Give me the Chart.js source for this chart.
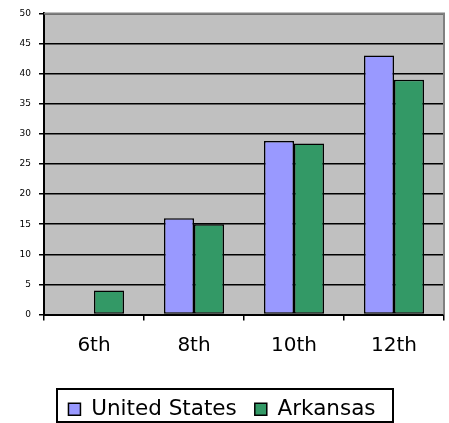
<!DOCTYPE html>
<html>
<head>
<meta charset="utf-8">
<script src="https://cdn.jsdelivr.net/npm/chart.js@4"></script>
<style>
  html, body { margin: 0; padding: 0; background: #ffffff; }
  #wrap { width: 449px; height: 423px; }
</style>
</head>
<body>
<div id="wrap"><canvas id="bar"></canvas></div>
<script>
var grades = ["6th", "8th", "10th", "12th"];
var unitedStates = [null, 16, 28.8, 43];
var arkansas = [4, 15, 28.4, 39];
var yTicks = [0, 5, 10, 15, 20, 25, 30, 35, 40, 45, 50];

var bar = document.getElementById("bar");

// grey plot area, grey top/right border, box round the legend
var plotBack = {
    id: "plotBack",
    beforeDraw: function (chart) {
        var a = chart.chartArea;
        var ctx = chart.ctx;
        ctx.save();
        ctx.fillStyle = "#C0C0C0";
        ctx.fillRect(a.left, a.top, a.right - a.left, a.bottom - a.top);
        ctx.restore();
    },
    beforeDatasetsDraw: function (chart) {
        var a = chart.chartArea;
        var ctx = chart.ctx;
        ctx.save();
        ctx.strokeStyle = "#808080";
        ctx.lineWidth = 2;
        ctx.beginPath();
        ctx.moveTo(a.left, a.top);
        ctx.lineTo(a.right, a.top);
        ctx.lineTo(a.right, a.bottom);
        ctx.stroke();
        ctx.restore();
    },
    afterDraw: function (chart) {
        var ctx = chart.ctx;
        ctx.save();
        ctx.strokeStyle = "#000000";
        ctx.lineWidth = 2;
        ctx.strokeRect(57, 389, 336, 33);
        ctx.restore();
    },
};

new Chart(bar, {
    type: "bar",
    data: {
        labels: grades,
        datasets: [
            {
                label: "United States",
                data: unitedStates,
                backgroundColor: "#9999FF",
                borderColor: "#000000",
                borderWidth: 1.5,
                borderSkipped: false,
            },
            {
                label: "Arkansas",
                data: arkansas,
                backgroundColor: "#339966",
                borderColor: "#000000",
                borderWidth: 1.5,
                borderSkipped: false,
            },
        ],
    },
    options: {
        responsive: true,
        maintainAspectRatio: false,
        animation: false,
        layout: {
            padding: { top: 12, right: 5, left: 0, bottom: -7 },
        },
        datasets: {
            bar: { categoryPercentage: 0.6, barPercentage: 1.0 },
        },
        scales: {
            x: {
                grid: {
                    drawOnChartArea: false,
                    drawTicks: true,
                    tickLength: 6,
                    color: "#000000",
                    lineWidth: 1.5,
                },
                border: { color: "#000000", width: 2 },
                ticks: {
                    color: "#000000",
                    padding: 13,
                    font: { family: "DejaVu Sans", size: 20 },
                },
                afterFit: function (scale) {
                    scale.height = 66;
                },
            },
            y: {
                min: 0,
                max: 50,
                afterBuildTicks: function (scale) {
                    scale.ticks = yTicks.map(function (v) {
                        return { value: v };
                    });
                },
                grid: {
                    color: "#000000",
                    lineWidth: 1.5,
                    tickLength: 5,
                },
                border: { color: "#000000", width: 2 },
                ticks: {
                    color: "#000000",
                    padding: 8,
                    font: { family: "DejaVu Sans", size: 9 },
                },
                afterFit: function (scale) {
                    scale.width = 44;
                },
            },
        },
        plugins: {
            legend: {
                position: "bottom",
                labels: {
                    color: "#000000",
                    boxWidth: 12,
                    boxHeight: 12,
                    padding: 18,
                    font: { family: "DejaVu Sans", size: 21.5 },
                },
            },
            tooltip: { enabled: false },
        },
    },
    plugins: [plotBack],
});
</script>
</body>
</html>
